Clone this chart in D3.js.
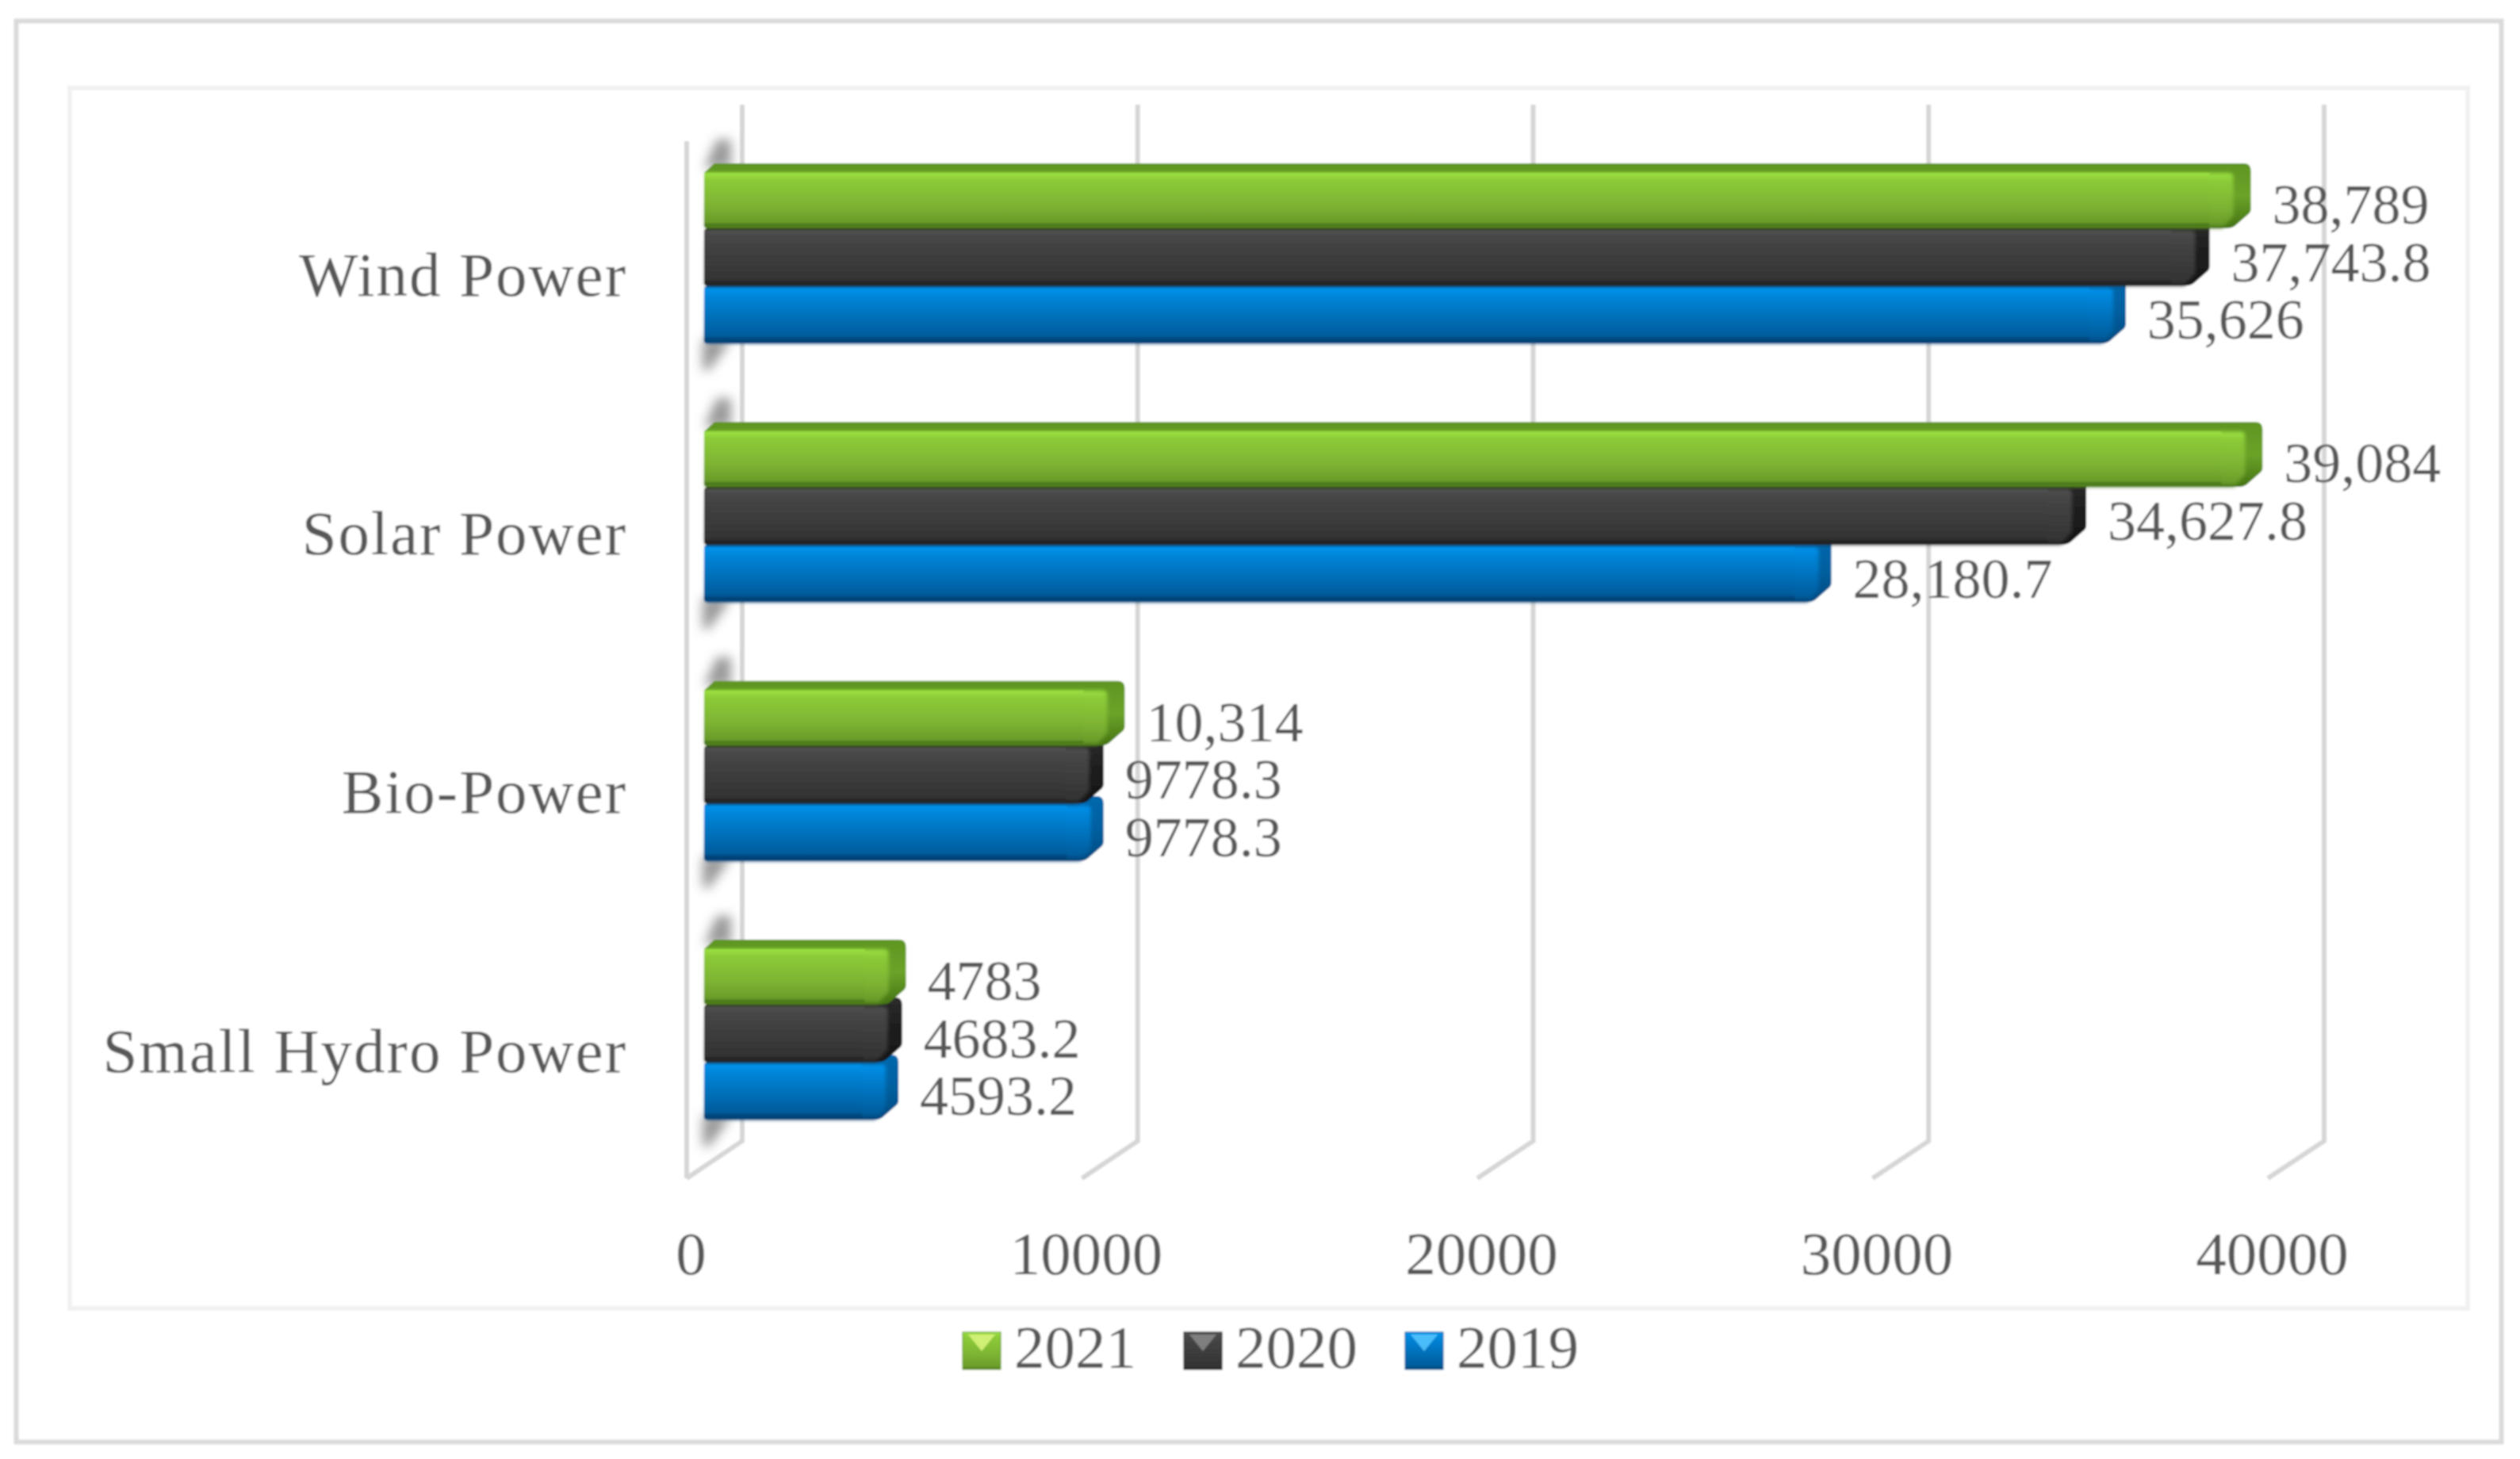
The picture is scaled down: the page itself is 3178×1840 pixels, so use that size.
<!DOCTYPE html>
<html><head><meta charset="utf-8">
<script src="https://cdn.jsdelivr.net/npm/d3@7"></script>
<style>html,body{margin:0;padding:0;background:#fff}svg{display:block}
text{font-family:"Liberation Serif",serif;fill:#595959}</style></head>
<body><svg id="c" width="3178" height="1840"></svg>
<script>
const categories = ["Wind Power","Solar Power","Bio-Power","Small Hydro Power"];
const seriesNames = ["2021","2020","2019"];
const values2021 = [38789,39084,10314,4783];
const values2020 = [37743.8,34627.8,9778.3,4683.2];
const values2019 = [35626,28180.7,9778.3,4593.2];
const labels2021 = ["38,789","39,084","10,314","4783"];
const labels2020 = ["37,743.8","34,627.8","9778.3","4683.2"];
const labels2019 = ["35,626","28,180.7","9778.3","4593.2"];
const tickValues = [0,10000,20000,30000,40000];
const faceColors = {
 "2021":[[0,"#9ce242"],[.14,"#8ccb38"],[.6,"#7eb433"],[.93,"#6a9c2a"],[1,"#3f6b15"]],
 "2020":[[0,"#525252"],[.12,"#474747"],[.6,"#3b3b3b"],[.93,"#333333"],[1,"#1f1f1f"]],
 "2019":[[0,"#0094ee"],[.15,"#0086da"],[.6,"#006db5"],[.9,"#005c9c"],[1,"#003c6c"]]};
const capColors = {
 "2021":[[0,"#5f9522"],[.5,"#6ba329"],[1,"#457414"]],
 "2020":[[0,"#2c2c2c"],[.5,"#1d1d1d"],[1,"#161616"]],
 "2019":[[0,"#0068ad"],[.5,"#00609f"],[1,"#004a80"]]};
const lightColors = {"2021":"#dcf780","2020":"#8a8a8a","2019":"#55c8ff"};
const edgeColors = {"2021":"#5f9522","2020":"#1c1c1c","2019":"#00599a"};

const svg = d3.select("#c");
const root = svg.append("g").attr("filter","url(#soft)");
const defs = svg.append("defs");
defs.append("filter").attr("id","soft").attr("filterUnits","userSpaceOnUse").attr("x",0).attr("y",0).attr("width",3178).attr("height",1840)
  .append("feGaussianBlur").attr("stdDeviation",1.1);
defs.append("filter").attr("id","face").attr("x","-2%").attr("y","-10%").attr("width","104%").attr("height","120%")
  .append("feGaussianBlur").attr("stdDeviation",2.2);
defs.append("filter").attr("id","shadow").attr("filterUnits","userSpaceOnUse").attr("x",840).attr("y",120).attr("width",130).attr("height",1400)
  .append("feGaussianBlur").attr("stdDeviation",7);
function grad(id,stops){
  const g=defs.append("linearGradient").attr("id",id).attr("x1",0).attr("x2",0).attr("y1",0).attr("y2",1);
  stops.forEach(c=>g.append("stop").attr("offset",c[0]).attr("stop-color",c[1]));
}
seriesNames.forEach(s=>{grad("g"+s,faceColors[s]);grad("c"+s,capColors[s]);});

// frames
root.append("rect").attr("x",20.5).attr("y",26.5).attr("width",3134).attr("height",1792).attr("fill","#fff").attr("stroke","#dadada").attr("stroke-width",6);
root.append("rect").attr("x",88).attr("y",111).attr("width",3024).attr("height",1539).attr("fill","#fff").attr("stroke","#f1f1f1").attr("stroke-width",6);

// scales
const xFront = d3.scaleLinear().domain([0,40000]).range([866,2860]);
const xBack  = d3.scaleLinear().domain([0,40000]).range([936,2931]);
const xBar   = d3.scaleLinear().domain([0,40000]).range([904,2899]);
const yCat   = d3.scalePoint().domain(categories).range([324,1303]);
const ySer   = d3.scaleBand().domain(seriesNames).range([-109,109]);
const wallTop=132, wallBottom=1439, frontTop=178, frontBottom=1486;
const capWidth={"2021":22,"2020":18,"2019":16};

// gridlines
const grid=root.append("g").attr("stroke","#d6d6d6").attr("stroke-width",6).attr("fill","none");
grid.selectAll("path").data(tickValues).join("path").attr("stroke-linejoin","miter")
  .attr("d",v=>`M${xBack(v)},${wallTop}V${wallBottom}L${xFront(v)},${frontBottom}`);
grid.append("path").attr("d",`M${xFront(0)},${frontTop}V${frontBottom}`);

// wall shadows
const shadow=root.append("g").attr("fill","#9a9a9a").attr("filter","url(#shadow)");
categories.forEach(c=>{
  const m=yCat(c);
  shadow.append("path").attr("d",`M888,${m-112}L904,${m-148}H922V${m-112}Z`);
  shadow.append("path").attr("d",`M886,${m+104}H922L910,${m+122}L894,${m+143}H886Z`);
});

// bars
const seriesVals={"2021":values2021,"2020":values2020,"2019":values2019};
const seriesLabels={"2021":labels2021,"2020":labels2020,"2019":labels2019};
const x0=xBar.range()[0]-16;
const barGroup=root.append("g");
const drawOrder=seriesNames.slice().reverse();
categories.forEach((c,i)=>{
  const m=yCat(c);
  drawOrder.forEach(s=>{
    const t=m+ySer(s), b=t+ySer.bandwidth(), x1=xBar(seriesVals[s][i]), fr=x1-capWidth[s];
    const sil=`M${x0},${t+3}L${x0+13},${t-9}H${x1-9}Q${x1},${t-9} ${x1},${t}V${b-24}Q${x1},${b-20} ${x1-4},${b-17}L${x1-20},${b-3}Q${x1-24},${b} ${x1-30},${b}H${x0+4}Q${x0},${b} ${x0},${b-4}Z`;
    barGroup.append("path").attr("d",sil).attr("fill",`url(#c${s})`);
    barGroup.append("path").attr("d",`M${x0+2},${t+3}H${fr-6}Q${fr},${t+3} ${fr},${t+9}V${b-16}L${fr-14},${b}H${x0+5}Q${x0+1},${b} ${x0+1},${b-4}Z`)
      .attr("fill",`url(#g${s})`).attr("filter","url(#face)");
    // crisp left and bottom edge of the face
    barGroup.append("path").attr("d",`M${x0},${t+3}H${fr-30}V${b-3}H${x0}Z`).attr("fill",`url(#g${s})`);
    root.append("text").attr("class","val").attr("x",x1+27).attr("y",t+67).attr("font-size",72)
      .text(seriesLabels[s][i]);
  });
});
root.selectAll("text.val").raise();

// axes
const ax=root.append("g").attr("transform","translate(5,1538)")
  .call(d3.axisBottom(xFront).tickValues(tickValues).tickFormat(d=>String(d)).tickSize(0).tickPadding(0));
ax.select(".domain").remove();
ax.selectAll("text").attr("font-size",77).attr("dy",0).attr("y",69).style("font-family",'"Liberation Serif",serif').attr("fill","#646464");
const ay=root.append("g").attr("transform","translate(791,48)")
  .call(d3.axisLeft(yCat).tickSize(0).tickPadding(0));
ay.select(".domain").remove();
ay.selectAll("text").attr("font-size",79).attr("dy",0).attr("x",0).style("font-family",'"Liberation Serif",serif').attr("fill","#595959").attr("letter-spacing",2);

// legend
const legendX=d3.scalePoint().domain(seriesNames).range([1214,1772]);
const lg=root.append("g").selectAll("g").data(seriesNames).join("g").attr("transform",d=>`translate(${legendX(d)},1680)`);
lg.append("rect").attr("width",48).attr("height",47).attr("fill",d=>`url(#g${d})`).attr("stroke",d=>edgeColors[d]).attr("stroke-width",1);
lg.append("path").attr("d","M7,3H41L24,24Z").attr("fill",d=>lightColors[d]).attr("opacity",.85);
lg.append("text").attr("x",65).attr("y",45).attr("font-size",77).text(d=>d);
</script></body></html>
